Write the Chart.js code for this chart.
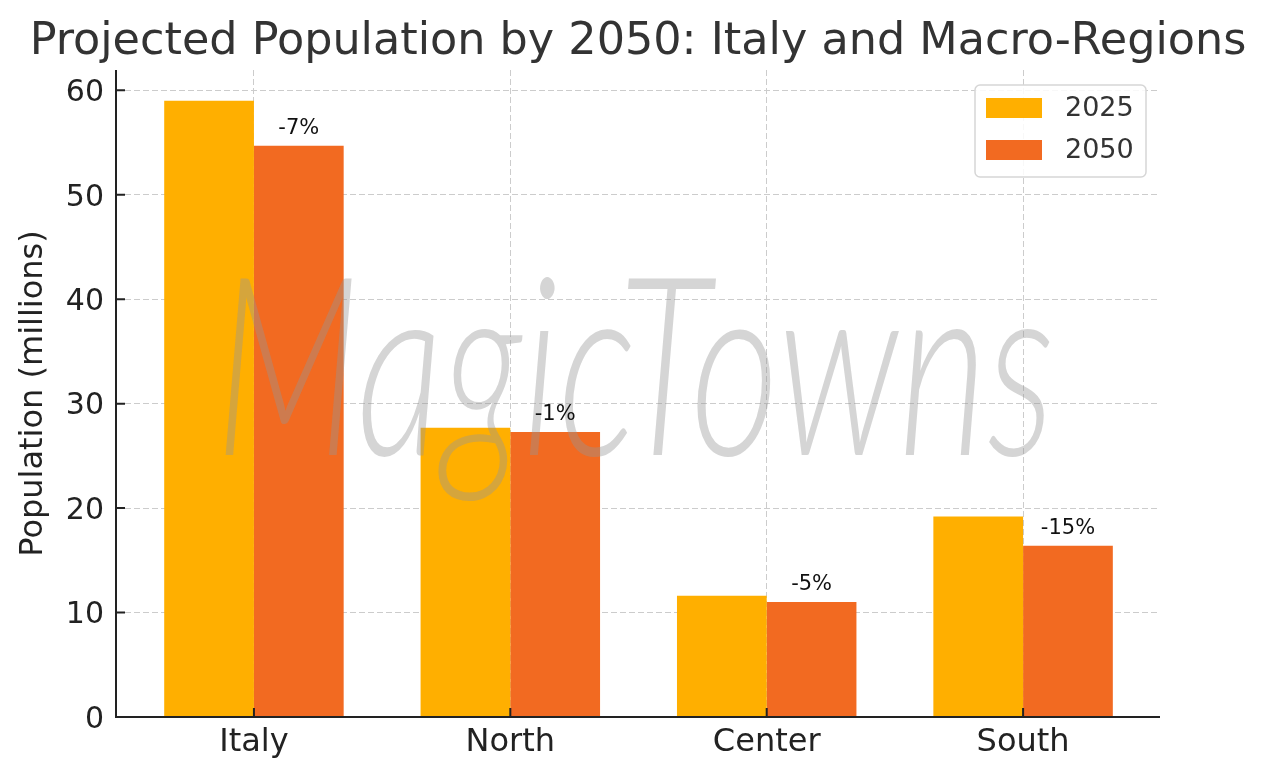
<!DOCTYPE html>
<html>
<head>
<meta charset="utf-8">
<script src="https://cdn.jsdelivr.net/npm/chart.js@4.4.1/dist/chart.umd.min.js"></script>
<style>
  html, body { margin: 0; padding: 0; background: #fff; }
</style>
</head>
<body>
<canvas id="myChart" width="1266" height="780"></canvas>
<script>
// data
const regions = ['Italy', 'North', 'Center', 'South'];
const pop2025 = [59.0, 27.7, 11.6, 19.2];
const pop2050 = [54.7, 27.3, 11.0, 16.4];
const changeLabels = ['-7%', '-1%', '-5%', '-15%'];
const yTickValues = [0, 10, 20, 30, 40, 50, 60];
const seriesNames = ['2025', '2050'];
const seriesColors = ['#FFAF00', '#F26A21'];

const FONT = '"DejaVu Sans", sans-serif';

// watermark, drawn over the bars but under the vertical grid
const watermark = {
    id: 'watermark',
    afterDatasetsDraw(chart) {
        const ctx = chart.ctx;
        ctx.save();
        ctx.fillStyle = 'rgba(150,150,150,0.4)';
        ctx.font = 'italic 300 250px Lato, "DejaVu Sans", sans-serif';
        const w = ctx.measureText('MagicTowns').width;
        ctx.translate(215, 455);
        ctx.scale(840 / w, 1);
        ctx.textBaseline = 'alphabetic';
        ctx.fillText('MagicTowns', 0, 0);
        ctx.restore();
    }
};

const extras = {
    id: 'extras',
    afterDraw(chart) {
        const ctx = chart.ctx;
        const area = chart.chartArea;
        const xs = chart.scales.x;
        const ys = chart.scales.y;
        ctx.save();

        // title
        ctx.fillStyle = '#333';
        ctx.font = '44.5px ' + FONT;
        ctx.textAlign = 'center';
        ctx.textBaseline = 'alphabetic';
        ctx.fillText('Projected Population by 2050: Italy and Macro-Regions', (area.left + area.right) / 2, 54);

        // percent labels above the 2050 bars
        ctx.fillStyle = '#111';
        ctx.font = '21px ' + FONT;
        chart.getDatasetMeta(1).data.forEach((bar, i) => {
            ctx.fillText(changeLabels[i], bar.x, bar.y - 12);
        });

        // spines and inward ticks
        ctx.strokeStyle = '#222';
        ctx.lineWidth = 2;
        ctx.beginPath();
        ctx.moveTo(area.left, area.top);
        ctx.lineTo(area.left, area.bottom);
        ctx.lineTo(area.right, area.bottom);
        ctx.stroke();
        ctx.beginPath();
        yTickValues.forEach((v) => {
            const py = ys.getPixelForValue(v);
            ctx.moveTo(area.left, py);
            ctx.lineTo(area.left + 9, py);
        });
        regions.forEach((r, i) => {
            const px = xs.getPixelForValue(i);
            ctx.moveTo(px, area.bottom);
            ctx.lineTo(px, area.bottom - 9);
        });
        ctx.stroke();

        // legend box
        const bx = area.right - 185, by = area.top + 15, bw = 171, bh = 92;
        ctx.fillStyle = 'rgba(255,255,255,0.85)';
        ctx.strokeStyle = '#d6d6d6';
        ctx.lineWidth = 1.5;
        ctx.beginPath();
        ctx.roundRect(bx, by, bw, bh, 5);
        ctx.fill();
        ctx.stroke();
        ctx.textAlign = 'left';
        ctx.textBaseline = 'middle';
        ctx.font = '27px ' + FONT;
        chart.data.datasets.forEach((ds, i) => {
            const cy = by + 23 + i * 42;
            ctx.fillStyle = ds.backgroundColor;
            ctx.fillRect(bx + 11, cy - 10, 56, 20);
            ctx.fillStyle = '#333';
            ctx.fillText(ds.label, bx + 90, cy + 1);
        });
        ctx.restore();
    }
};

let grafico = new Chart('myChart', {
    type: 'bar',
    data: {
        datasets: [{
            label: seriesNames[0],
            data: pop2025.map((v, i) => ({ x: i, y: v })),
            backgroundColor: seriesColors[0],
            borderWidth: 0
        }, {
            label: seriesNames[1],
            data: pop2050.map((v, i) => ({ x: i, y: v })),
            backgroundColor: seriesColors[1],
            borderWidth: 0
        }]
    },
    options: {
        responsive: false,
        animation: false,
        devicePixelRatio: 1,
        categoryPercentage: 0.7,
        barPercentage: 1.0,
        layout: { padding: { top: 70, right: 106, left: 0, bottom: 0 } },
        plugins: {
            legend: { display: false },
            tooltip: { enabled: false }
        },
        scales: {
            x: {
                type: 'linear',
                min: -0.538,
                max: 3.534,
                offset: false,
                z: 1,
                afterBuildTicks: (s) => { s.ticks = regions.map((r, i) => ({ value: i })); },
                afterFit: (s) => { s.height = 63; },
                ticks: {
                    callback: (v) => regions[v],
                    font: { family: FONT, size: 32 },
                    color: '#222',
                    padding: 6,
                    maxRotation: 0,
                    autoSkip: false
                },
                grid: { color: '#cccccc', lineWidth: 1, drawTicks: false, offset: false },
                border: { display: false, dash: [6, 3] }
            },
            y: {
                min: 0,
                max: 61.95,
                afterBuildTicks: (s) => { s.ticks = yTickValues.map((v) => ({ value: v })); },
                afterFit: (s) => { s.width = 116; },
                ticks: {
                    font: { family: FONT, size: 30 },
                    color: '#222',
                    padding: 12,
                    labelOffset: 3
                },
                grid: { color: '#cccccc', lineWidth: 1, drawTicks: false },
                border: { display: false, dash: [6, 3] },
                title: {
                    display: true,
                    text: 'Population (millions)',
                    font: { family: FONT, size: 32 },
                    color: '#222',
                    padding: { top: 14, bottom: 0 }
                }
            }
        }
    },
    plugins: [watermark, extras]
});
</script>
</body>
</html>
